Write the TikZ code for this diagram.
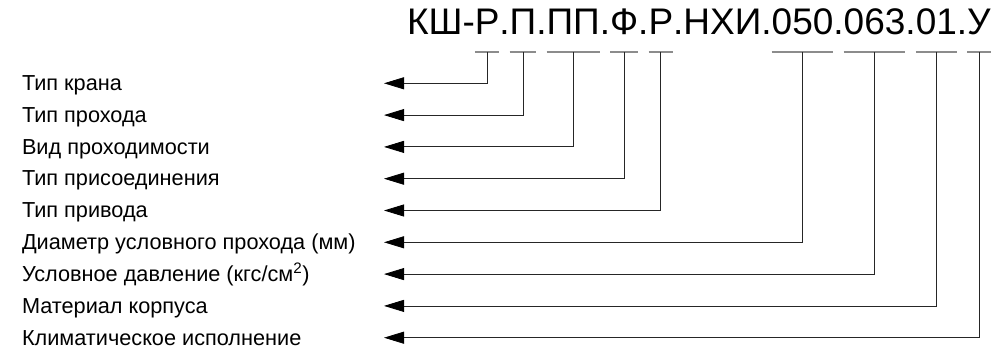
\documentclass[tikz,border=0pt]{standalone}
\usepackage{fontspec}
\setmainfont{Liberation Sans}
\usetikzlibrary{arrows.meta}
\begin{document}
\begin{tikzpicture}[x=1pt,y=1pt,
  seg/.style={inner sep=0pt,outer sep=0pt,anchor=base west,font=\fontsize{37}{37}\selectfont},
  lbl/.style={inner sep=0pt,outer sep=0pt,anchor=base west,font=\fontsize{21.7}{21.7}\selectfont},
  dashline/.style={draw=black!45,line width=1.2pt},
  conn/.style={draw=black!85,line width=0.8pt,-{Triangle[length=20pt,width=12pt,fill=black,color=black]}}]
\useasboundingbox (0,0) rectangle (1004,351);
% title
\node[seg] (t0) at (407,316) {КШ-};
\node[seg] (s1) at (t0.base east) {Р};
\node[seg] (p1) at (s1.base east) {.};
\node[seg] (s2) at (p1.base east) {П};
\node[seg] (p2) at (s2.base east) {.};
\node[seg] (s3) at (p2.base east) {ПП};
\node[seg] (p3) at (s3.base east) {.};
\node[seg] (s4) at (p3.base east) {Ф};
\node[seg] (p4) at (s4.base east) {.};
\node[seg] (s5) at (p4.base east) {Р};
\node[seg] (p5) at (s5.base east) {.НХИ.};
\node[seg] (s6) at (p5.base east) {050};
\node[seg] (p6) at (s6.base east) {.};
\node[seg] (s7) at (p6.base east) {063};
\node[seg] (p7) at (s7.base east) {.};
\node[seg] (s8) at (p7.base east) {01};
\node[seg] (p8) at (s8.base east) {.};
\node[seg] (s9) at (p8.base east) {У};
% labels
\node[lbl] (l1) at (22,260.4) {Тип крана};
\node[lbl] (l2) at (22,228.6) {Тип прохода};
\node[lbl] (l3) at (22,196.8) {Вид проходимости};
\node[lbl] (l4) at (22,165.0) {Тип присоединения};
\node[lbl] (l5) at (22,133.2) {Тип привода};
\node[lbl] (l6) at (22,101.4) {Диаметр условного прохода (мм)};
\node[lbl] (l7) at (22,69.6) {Условное давление (кгс/см\textsuperscript{2})};
\node[lbl] (l8) at (22,37.8) {Материал корпуса};
\node[lbl] (l9) at (22,6.0) {Климатическое исполнение};
% arrow tips
\coordinate (a1) at (384,267.7);
\coordinate (a2) at (384,235.9);
\coordinate (a3) at (384,204.1);
\coordinate (a4) at (384,172.3);
\coordinate (a5) at (384,140.5);
\coordinate (a6) at (384,108.7);
\coordinate (a7) at (384,76.9);
\coordinate (a8) at (384,45.1);
\coordinate (a9) at (384,13.3);
% dashes and connectors
\foreach \i in {1,...,9}{
  \draw[dashline] ([yshift=-17pt]s\i.base west) -- ([yshift=-17pt]s\i.base east);
  \draw[conn] ([yshift=-17pt]s\i.base) |- (a\i);
}
\end{tikzpicture}
\end{document}
